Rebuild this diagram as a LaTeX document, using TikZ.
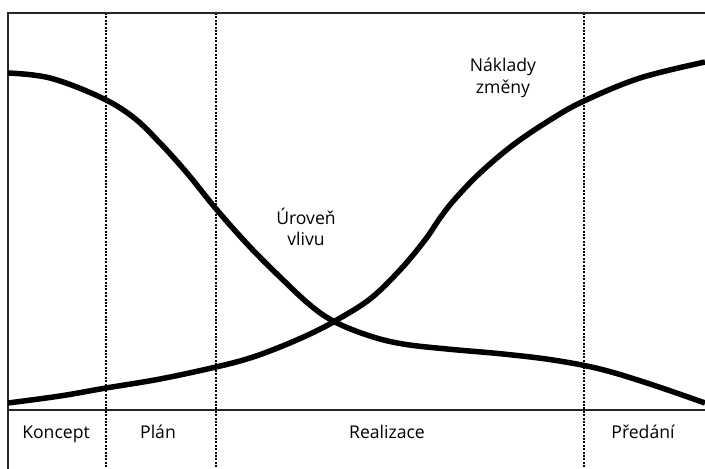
\documentclass[tikz,border=0pt]{standalone}
\usepackage{fontspec}
\setmainfont{Open Sans}
\begin{document}
\begin{tikzpicture}[x=1pt,y=-1pt,
  frame/.style={line width=2pt,black!85},
  phase/.style={line width=1.6pt,dash pattern=on 2pt off 1.4pt},
  curve/.style={line width=5.5pt,line join=round},
  lbl/.style={font=\fontsize{17.6}{21.5}\selectfont,align=center,inner sep=0pt}]
\useasboundingbox (0,0) rectangle (705,469);
% phase dividers
\foreach \xx/\nm in {106/d1,216/d2,584/d3}{
  \coordinate (\nm t) at (\xx,13);
  \coordinate (\nm b) at (\xx,469);
  \draw[phase] (\nm t) -- (\nm b);
}
% frame
\coordinate (tl) at (8,13);
\coordinate (tr) at (705,13);
\coordinate (bl) at (8,469);
\coordinate (al) at (8,410);
\coordinate (ar) at (705,410);
\draw[frame] (tr) -- (tl) -- (bl);
\draw[frame] (al) -- (ar);
% curves
\draw[curve] plot[smooth,tension=0.6] coordinates {(8,73) (50,78) (100,97) (133,117) (160,143) (187,173) (217,210) (250,247) (280,277) (310,305) (335,322) (370,336) (403,344) (447,349) (503,354) (553,360) (600,369) (650,384) (705,403)};
\draw[curve] plot[smooth,tension=0.6] coordinates {(8,403) (60,396) (106,388) (160,379) (216,367) (250,358) (280,347) (310,334) (335,321) (370,299) (400,270) (425,240) (440,218) (455,199) (480,173) (513,145) (550,120) (584,101) (640,78) (705,62)};
% labels
\node[lbl] (naklady) at (503,78) {Náklady\\změny};
\node[lbl] (uroven) at (306,227) {Úroveň\\vlivu};
\node[lbl,anchor=base] (koncept) at (56,438) {Koncept};
\node[lbl,anchor=base] (plan) at (158,438) {Plán};
\node[lbl,anchor=base] (realizace) at (387,438) {Realizace};
\node[lbl,anchor=base] (predani) at (643,438) {Předání};
\end{tikzpicture}
\end{document}
